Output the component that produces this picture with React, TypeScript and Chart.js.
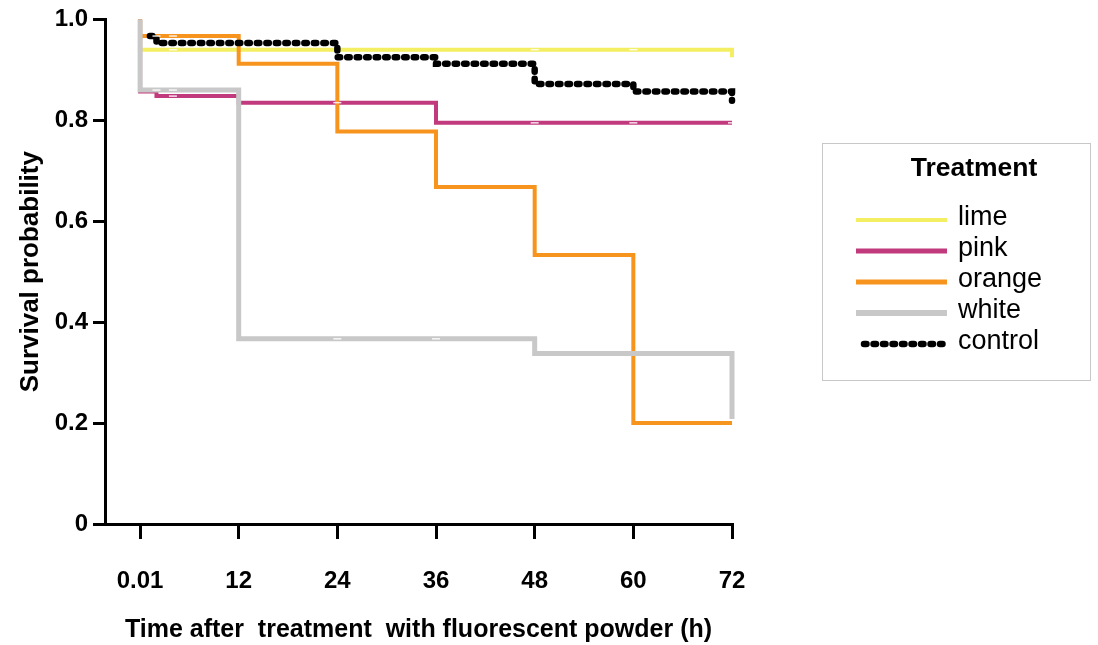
import React, { useEffect, useRef } from 'react';
import { Chart, registerables } from 'chart.js';

Chart.register(...registerables);

// ---- data ----
const xTicks = [0.01, 12, 24, 36, 48, 60, 72];
const yTicks = [0, 0.2, 0.4, 0.6, 0.8, 1.0];
const seriesNames = ['lime', 'pink', 'orange', 'white', 'control'];
const seriesColors = ['#f4ee62', '#c13a7d', '#f7941d', '#c8c8c8', '#000000'];

// Kaplan-Meier steps: event time and survival after the event
const limeTimes = [0.01, 0.01, 72, 72];
const limeSurv = [1.0, 0.94, 0.94, 0.925];
const pinkTimes = [0.01, 0.01, 2, 12, 36, 72];
const pinkSurv = [1.0, 0.857, 0.848, 0.835, 0.795, 0.795];
const orangeTimes = [0.01, 0.01, 12, 24, 36, 48, 60, 72];
const orangeSurv = [1.0, 0.967, 0.912, 0.778, 0.668, 0.533, 0.2, 0.2];
const whiteTimes = [0.01, 0.01, 12, 48, 72, 72];
const whiteSurv = [1.0, 0.86, 0.367, 0.338, 0.338, 0.208];
const controlTimes = [1.2, 2, 24, 36, 48, 60, 72, 72];
const controlSurv = [0.967, 0.953, 0.925, 0.912, 0.872, 0.857, 0.857, 0.839];

// censoring marks (small white ticks on the curves)
const censorTimes = [2, 4, 2, 4, 4, 4, 24, 36, 24, 48, 60, 48, 60, 72];
const censorSurv = [0.967, 0.967, 0.86, 0.86, 0.848, 0.94, 0.367, 0.367, 0.835, 0.795, 0.795, 0.94, 0.94, 0.795];

const xTitle = 'Time after  treatment  with fluorescent powder (h)';
const yTitle = 'Survival probability';
const legendTitle = 'Treatment';

const FONT = '"Liberation Sans", Arial, Helvetica, sans-serif';

const toPts = (t: number[], s: number[]) => t.map((v, i) => ({ x: v, y: s[i] }));

const legendPlugin = {
  id: 'kmLegend',
  afterDraw(chart: any) {
    const ctx = chart.ctx as CanvasRenderingContext2D;
    ctx.save();
    ctx.strokeStyle = '#c8c8c8';
    ctx.lineWidth = 1;
    ctx.strokeRect(822.5, 143.5, 268, 237);
    ctx.fillStyle = '#000';
    ctx.font = `bold 26.5px ${FONT}`;
    ctx.textAlign = 'center';
    ctx.textBaseline = 'middle';
    ctx.fillText(legendTitle, 974, 169);
    const rows = [220, 251, 282, 313, 344];
    const widths = [4, 5, 5, 6, 6.5];
    seriesNames.forEach((name, i) => {
      const y = rows[i];
      ctx.save();
      ctx.strokeStyle = seriesColors[i];
      ctx.lineWidth = widths[i];
      if (name === 'control') {
        ctx.setLineDash([2.5, 7]);
        ctx.lineCap = 'round';
      } else {
        ctx.setLineDash([]);
        ctx.lineCap = 'butt';
      }
      ctx.beginPath();
      ctx.moveTo(name === 'control' ? 864 : 856, y);
      ctx.lineTo(947, y);
      ctx.stroke();
      ctx.restore();
      ctx.fillStyle = '#000';
      ctx.font = `27px ${FONT}`;
      ctx.textAlign = 'left';
      ctx.textBaseline = 'middle';
      ctx.fillText(name, 958, y - 2);
    });
    ctx.restore();
  },
};

export default function App() {
  const ref = useRef<HTMLCanvasElement | null>(null);

  useEffect(() => {
    if (!ref.current) return;
    Chart.defaults.font.family = FONT;
    Chart.defaults.color = '#000';
    const allTimes = [limeTimes, pinkTimes, orangeTimes, whiteTimes, controlTimes];
    const allSurv = [limeSurv, pinkSurv, orangeSurv, whiteSurv, controlSurv];
    const drawOrder = [5, 4, 3, 2, 1];
    const datasets: any[] = seriesNames.map((name, i) => ({
      label: name,
      data: toPts(allTimes[i], allSurv[i]),
      borderColor: seriesColors[i],
      backgroundColor: seriesColors[i],
      borderWidth: name === 'control' ? 6.5 : name === 'white' ? 5 : 4,
      borderDash: name === 'control' ? [2.5, 7] : [],
      borderCapStyle: name === 'control' ? 'round' : 'butt',
      borderJoinStyle: 'miter',
      stepped: 'before',
      pointRadius: 0,
      fill: false,
      clip: false,
      order: drawOrder[i],
    }));
    datasets.push({
      label: 'censored',
      type: 'scatter',
      data: toPts(censorTimes, censorSurv),
      showLine: false,
      pointStyle: 'line',
      pointRadius: 4,
      borderColor: 'rgba(255,255,255,0.85)',
      backgroundColor: 'rgba(255,255,255,0.85)',
      pointBorderWidth: 1.5,
      borderWidth: 1.5,
      clip: false,
      order: 0,
    });

    const chart = new Chart(ref.current, {
      type: 'line',
      data: { datasets } as any,
      plugins: [legendPlugin],
      options: {
        animation: false,
        responsive: false,
        maintainAspectRatio: false,
        layout: { padding: { left: 0, top: 15, right: 366, bottom: 0 } },
        plugins: { legend: { display: false }, tooltip: { enabled: false } },
        scales: {
          x: {
            type: 'linear',
            min: -4.26,
            max: 72.0,
            afterBuildTicks: (s: any) => {
              s.ticks = xTicks.map((v) => ({ value: v }));
            },
            afterFit: (s: any) => {
              s.height = 121;
            },
            ticks: {
              autoSkip: false,
              maxRotation: 0,
              padding: 28,
              color: '#000',
              font: { size: 24, weight: 'bold' },
              callback: (v: any) => (v === 0.01 ? '0.01' : String(v)),
            },
            grid: {
              drawOnChartArea: false,
              drawTicks: true,
              tickLength: 15,
              color: '#000',
              lineWidth: 3,
            },
            border: { display: true, color: '#000', width: 3 },
            title: {
              display: true,
              text: xTitle,
              color: '#000',
              font: { size: 25, weight: 'bold' },
              padding: { top: 0, bottom: 0 },
            },
          },
          y: {
            type: 'linear',
            min: 0,
            max: 1,
            afterBuildTicks: (s: any) => {
              s.ticks = yTicks.map((v) => ({ value: v }));
            },
            afterFit: (s: any) => {
              s.width = 105;
            },
            ticks: {
              padding: 5,
              color: '#000',
              font: { size: 24, weight: 'bold' },
              callback: (v: any) => (v === 0 ? '0' : Number(v).toFixed(1)),
            },
            grid: {
              drawOnChartArea: false,
              drawTicks: true,
              tickLength: 12,
              color: '#000',
              lineWidth: 3,
            },
            border: { display: true, color: '#000', width: 3 },
            title: {
              display: true,
              text: yTitle,
              color: '#000',
              font: { size: 26, weight: 'bold' },
              padding: { top: 15, bottom: 0 },
            },
          },
        },
      } as any,
    });
    return () => chart.destroy();
  }, []);

  return (
    <div style={{ position: 'fixed', left: 0, top: 0, width: 1098, height: 645, background: '#fff' }}>
      <canvas ref={ref} width={1098} height={645} style={{ width: 1098, height: 645, display: 'block' }} />
    </div>
  );
}
